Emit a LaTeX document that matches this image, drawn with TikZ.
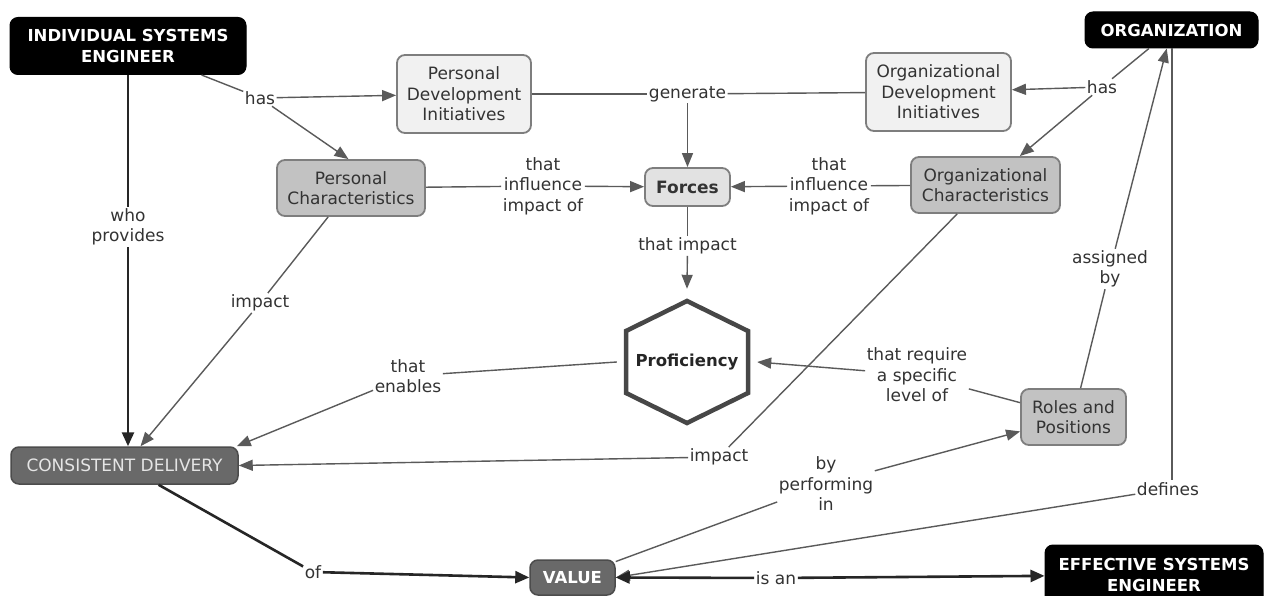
\documentclass[tikz,border=0pt]{standalone}
\usepackage{fontspec}
\setmainfont{DejaVu Sans}
\usetikzlibrary{arrows.meta}
\definecolor{txt}{HTML}{333333}
\definecolor{lightfill}{HTML}{F1F1F1}
\definecolor{midfill}{HTML}{C2C2C2}
\definecolor{forcefill}{HTML}{E2E2E2}
\definecolor{darkfill}{HTML}{696969}
\definecolor{boxline}{HTML}{7E7E7E}
\definecolor{lineclr}{HTML}{5A5A5A}
\begin{document}
\begin{tikzpicture}[x=1pt,y=-1pt,
  font=\fontsize{17}{20.5}\selectfont,
  base/.style={rounded corners=8pt, align=center, inner sep=0pt},
  blackbox/.style={base, fill=black, draw=black, line width=1pt, text=white,
    font=\fontsize{16.5}{20.5}\selectfont\bfseries},
  lightbox/.style={base, fill=lightfill, draw=boxline, line width=1.8pt, text=txt},
  midbox/.style={base, fill=midfill, draw=boxline, line width=1.8pt, text=txt},
  darkbox/.style={base, fill=darkfill, draw=black!70, line width=1.5pt, text=black!10},
  lbl/.style={fill=white, inner sep=1.5pt, align=center, text=txt},
  conn/.style={draw=lineclr, line width=1.4pt},
  arr/.style={conn, -{Triangle[length=14pt,width=11pt]}},
  tconn/.style={draw=black!85, line width=2.6pt},
  tarr/.style={tconn, -{Triangle[length=14pt,width=12pt]}}
]
\useasboundingbox (0,0) rectangle (1267,596);
\clip (0,0) rectangle (1267,596);
\fill[white] (0,0) rectangle (1267,596);

% concept nodes
\node[blackbox, minimum width=236pt, minimum height=57pt] (ise) at (128,46) {INDIVIDUAL SYSTEMS\\ENGINEER};
\node[blackbox, minimum width=173pt, minimum height=36pt] (org) at (1171.5,30) {ORGANIZATION};
\node[lightbox, minimum width=134pt, minimum height=78pt] (pdi) at (464,94) {Personal\\Development\\Initiatives};
\node[lightbox, minimum width=145pt, minimum height=78pt] (odi) at (938.5,92) {Organizational\\Development\\Initiatives};
\node[midbox, minimum width=148pt, minimum height=56pt] (pc) at (351,188) {Personal\\Characteristics};
\node[midbox, minimum width=149pt, minimum height=56pt] (oc) at (985.5,185) {Organizational\\Characteristics};
\node[base, fill=forcefill, draw=boxline, line width=1.8pt, text=txt, font=\fontsize{17}{20.5}\selectfont\bfseries,
  minimum width=85pt, minimum height=38pt] (forces) at (687.5,187) {Forces};
\node[midbox, minimum width=105pt, minimum height=56pt] (roles) at (1073.5,417) {Roles and\\Positions};
\node[darkbox, minimum width=227pt, minimum height=37pt] (cd) at (124.5,465.5) {CONSISTENT DELIVERY};
\node[darkbox, text=white, font=\fontsize{16.5}{20.5}\selectfont\bfseries,
  minimum width=85pt, minimum height=35pt] (value) at (572.5,577.5) {VALUE};
\node[blackbox, minimum width=218pt, minimum height=60pt] (ese) at (1154,575) {EFFECTIVE SYSTEMS\\ENGINEER};

% proficiency hexagon
\draw[draw=black!72, line width=4.5pt, line join=miter, fill=white]
  (687,301) -- (748,331) -- (748,393) -- (687,423) -- (626,393) -- (626,331) -- cycle;
\node[inner sep=0pt, minimum width=140pt, minimum height=146pt, text=black!85,
  font=\fontsize{16.5}{20.5}\selectfont\bfseries] (prof) at (687,362) {Proficiency};

% linking phrases
\node[lbl] (has1) at (260,98) {has};
\node[lbl] (gen) at (687.5,94) {generate};
\node[lbl] (has2) at (1102,87) {has};
\node[lbl] (infl1) at (543,186) {that\\influence\\impact of};
\node[lbl] (infl2) at (829,186) {that\\influence\\impact of};
\node[lbl] (timp) at (687.5,246) {that impact};
\node[lbl] (who) at (128,227) {who\\provides};
\node[lbl] (imp1) at (260,303) {impact};
\node[lbl] (enab) at (408,376) {that\\enables};
\node[lbl] (req) at (917,375) {that require\\a specific\\level of};
\node[lbl] (imp2) at (719,457) {impact};
\node[lbl] (asg) at (1110,269) {assigned\\by};
\node[lbl] (perf) at (826,484) {by\\performing\\in};
\node[lbl] (def) at (1168,489) {defines};
\node[lbl] (of) at (313,572) {of};
\node[lbl] (isan) at (776,578) {is an};
\coordinate (orgdrop) at (1172,48);
\coordinate (defup) at (1172,480);

% connectors
\draw[conn] (ise) -- (has1);
\draw[arr] (has1) -- (pdi);
\draw[arr] (has1) -- (pc.95);
\draw[conn] (pdi) -- (gen);
\draw[conn] (odi) -- (gen);
\draw[arr] (gen) -- (forces);
\draw[conn] (org) -- (has2);
\draw[arr] (has2) -- (odi);
\draw[arr] (has2) -- (oc);
\draw[conn] (pc) -- (infl1);
\draw[arr] (infl1) -- (forces);
\draw[conn] (oc) -- (infl2);
\draw[arr] (infl2) -- (forces);
\draw[conn] (forces) -- (timp);
\draw[arr] (timp) -- (prof.north);
\draw[tconn] (ise) -- (who);
\draw[tarr] (who) -- (who |- cd.north);
\draw[conn] (pc) -- (imp1);
\draw[arr] (imp1) -- ([xshift=16pt]cd.north);
\draw[conn] (prof.west) -- (enab);
\draw[arr] (enab) -- ([xshift=-2pt]cd.north east);
\draw[conn] (oc) -- (imp2);
\draw[arr] (imp2) -- (cd.east);
\draw[conn] (roles) -- (req);
\draw[arr] (req) -- (prof.east);
\draw[conn] (roles) -- (asg);
\draw[arr] (asg) -- (org);
\draw[conn] (value) -- (perf);
\draw[arr] (perf) -- (roles);
\draw[conn] (orgdrop) -- (defup);
\draw[arr] (def) -- (value.east);
\draw[tconn] (cd) -- (of);
\draw[tarr] (of) -- (value.west);
\draw[tarr] (isan) -- (value.east);
\draw[tarr] (isan) -- (ese);
\end{tikzpicture}
\end{document}
